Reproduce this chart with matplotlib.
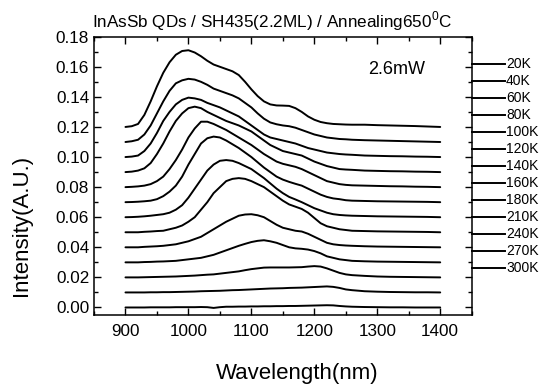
import matplotlib
matplotlib.use("Agg")
import matplotlib.pyplot as plt
from matplotlib.lines import Line2D
from matplotlib.ticker import MultipleLocator

plt.rcParams['font.family'] = ['Liberation Sans', 'DejaVu Sans']
plt.rcParams['mathtext.fontset'] = 'custom'
plt.rcParams['mathtext.rm'] = 'Liberation Sans'

# ---- data ----
wavelength = [900, 910, 920, 930, 940, 950, 960, 970, 980, 990,
              1000, 1010, 1020, 1030, 1040, 1050, 1060, 1070, 1080, 1090,
              1100, 1110, 1120, 1130, 1140, 1150, 1160, 1170, 1180, 1190,
              1200, 1210, 1220, 1230, 1240, 1250, 1260,
              1280, 1300, 1320, 1340, 1360, 1380, 1400]

temps = ['20K', '40K', '60K', '80K', '100K', '120K', '140K', '160K',
         '180K', '210K', '240K', '270K', '300K']

offsets = [0.12, 0.11, 0.10, 0.09, 0.08, 0.07, 0.06, 0.05, 0.04, 0.03, 0.02, 0.01, 0.00]

pl_20K = [0.000, 0.0005, 0.002, 0.008, 0.017, 0.027, 0.036, 0.043, 0.048, 0.0505,
          0.051, 0.0495, 0.047, 0.044, 0.0415, 0.040, 0.0385, 0.037, 0.0345, 0.030,
          0.025, 0.0205, 0.017, 0.015, 0.0143, 0.0142, 0.014, 0.0125, 0.010, 0.007,
          0.0048, 0.0033, 0.0025, 0.002, 0.0018, 0.0016, 0.0015,
          0.0015, 0.0012, 0.001, 0.0008, 0.0006, 0.0003, 0.000]
pl_40K = [0.000, 0.0005, 0.0015, 0.005, 0.011, 0.019, 0.027, 0.034, 0.039, 0.041,
          0.042, 0.0415, 0.040, 0.038, 0.0355, 0.034, 0.0325, 0.031, 0.029, 0.026,
          0.023, 0.019, 0.0155, 0.013, 0.0118, 0.011, 0.0105, 0.0095, 0.008, 0.0065,
          0.005, 0.004, 0.003, 0.0025, 0.002, 0.0018, 0.0015,
          0.0012, 0.001, 0.0008, 0.0006, 0.0004, 0.0002, 0.000]
pl_60K = [0.000, 0.0003, 0.001, 0.004, 0.009, 0.016, 0.024, 0.030, 0.035, 0.038,
          0.0395, 0.039, 0.038, 0.036, 0.0345, 0.033, 0.031, 0.029, 0.027, 0.024,
          0.021, 0.018, 0.015, 0.013, 0.012, 0.011, 0.010, 0.009, 0.0075, 0.006,
          0.005, 0.004, 0.003, 0.0025, 0.002, 0.0017, 0.0015,
          0.001, 0.0008, 0.0006, 0.0005, 0.0003, 0.0002, 0.000]
pl_80K = [0.000, 0.0003, 0.001, 0.0025, 0.006, 0.012, 0.019, 0.027, 0.034, 0.039,
          0.0425, 0.0435, 0.0425, 0.040, 0.038, 0.036, 0.034, 0.0325, 0.031, 0.029,
          0.027, 0.024, 0.021, 0.018, 0.016, 0.014, 0.013, 0.012, 0.011, 0.009,
          0.007, 0.0055, 0.004, 0.003, 0.002, 0.0017, 0.0015,
          0.001, 0.0008, 0.0006, 0.0005, 0.0003, 0.0002, 0.000]
pl_100K = [0.000, 0.0002, 0.0005, 0.001, 0.002, 0.004, 0.007, 0.012, 0.018, 0.025,
           0.033, 0.039, 0.0435, 0.0435, 0.042, 0.040, 0.038, 0.0355, 0.033, 0.0305,
           0.028, 0.025, 0.022, 0.0195, 0.017, 0.0155, 0.0145, 0.0135, 0.012, 0.010,
           0.008, 0.006, 0.004, 0.003, 0.002, 0.0015, 0.0012,
           0.001, 0.0008, 0.0006, 0.0005, 0.0003, 0.0002, 0.000]
pl_120K = [0.000, 0.0001, 0.0003, 0.0006, 0.001, 0.002, 0.004, 0.007, 0.011, 0.017,
           0.025, 0.032, 0.039, 0.0425, 0.0436, 0.043, 0.041, 0.0385, 0.036, 0.033,
           0.030, 0.0265, 0.023, 0.020, 0.017, 0.015, 0.0135, 0.0122, 0.011, 0.009,
           0.007, 0.005, 0.0035, 0.0025, 0.002, 0.0013, 0.001,
           0.0008, 0.0006, 0.0005, 0.0004, 0.0003, 0.0002, 0.000]
pl_140K = [0.000, 0.0001, 0.0003, 0.0006, 0.001, 0.0015, 0.002, 0.003, 0.005, 0.008,
           0.013, 0.019, 0.025, 0.031, 0.035, 0.0375, 0.038, 0.0375, 0.036, 0.034,
           0.032, 0.029, 0.026, 0.0225, 0.019, 0.016, 0.0135, 0.0118, 0.010, 0.008,
           0.006, 0.0045, 0.003, 0.002, 0.0015, 0.0012, 0.001,
           0.0008, 0.0006, 0.0005, 0.0004, 0.0003, 0.0002, 0.000]
pl_160K = [0.000, 0.000, 0.000, 0.0003, 0.0005, 0.0008, 0.001, 0.002, 0.003, 0.0045,
           0.007, 0.010, 0.015, 0.020, 0.026, 0.030, 0.034, 0.0355, 0.036, 0.0355,
           0.034, 0.032, 0.030, 0.027, 0.024, 0.021, 0.0185, 0.017, 0.0155, 0.013,
           0.0095, 0.006, 0.004, 0.003, 0.002, 0.0015, 0.001,
           0.0008, 0.0006, 0.0005, 0.0004, 0.0003, 0.0002, 0.000]
pl_180K = [0.000, 0.000, 0.000, 0.0003, 0.0005, 0.0007, 0.001, 0.0015, 0.002, 0.003,
           0.004, 0.0055, 0.007, 0.0095, 0.012, 0.0145, 0.017, 0.019, 0.021, 0.0218,
           0.022, 0.0213, 0.020, 0.0175, 0.015, 0.013, 0.012, 0.011, 0.0105, 0.009,
           0.007, 0.005, 0.003, 0.002, 0.0015, 0.0012, 0.001,
           0.0007, 0.0005, 0.0004, 0.0003, 0.0002, 0.0001, 0.000]
pl_210K = [0.000, 0.000, 0.000, 0.0002, 0.0003, 0.0005, 0.0006, 0.0008, 0.001, 0.0015,
           0.002, 0.0025, 0.003, 0.004, 0.005, 0.0065, 0.008, 0.0095, 0.011, 0.0123,
           0.0135, 0.0143, 0.0147, 0.014, 0.013, 0.0115, 0.010, 0.0093, 0.009, 0.0085,
           0.0075, 0.006, 0.004, 0.003, 0.002, 0.0015, 0.001,
           0.0007, 0.0005, 0.0004, 0.0003, 0.0002, 0.0001, 0.000]
pl_240K = [0.000, 0.000, 0.000, 0.0001, 0.0002, 0.0003, 0.0004, 0.0005, 0.0006, 0.0008,
           0.001, 0.0012, 0.0015, 0.0018, 0.002, 0.0025, 0.003, 0.0035, 0.004, 0.0048,
           0.0055, 0.006, 0.0065, 0.0066, 0.0066, 0.0066, 0.0066, 0.0067, 0.0068, 0.0072,
           0.0075, 0.0072, 0.006, 0.0045, 0.003, 0.002, 0.0015,
           0.001, 0.0006, 0.0004, 0.0003, 0.0002, 0.0001, 0.000]
pl_270K = [0.000, 0.000, 0.000, 0.000, 0.0001, 0.0001, 0.0002, 0.0002, 0.0003, 0.0004,
           0.0005, 0.0006, 0.0008, 0.0009, 0.001, 0.0011, 0.0013, 0.0015, 0.0016, 0.0018,
           0.002, 0.0022, 0.0024, 0.0026, 0.0027, 0.0028, 0.003, 0.0031, 0.0032, 0.0034,
           0.0036, 0.0038, 0.004, 0.0037, 0.003, 0.002, 0.0015,
           0.0008, 0.0005, 0.0003, 0.0002, 0.0001, 0.0001, 0.000]
pl_300K = [0.000, 0.000, 0.000, 0.000, 0.0001, 0.0001, 0.0001, 0.0001, 0.0002, 0.0002,
           0.0002, 0.0002, 0.0003, 0.0002, -0.0003, 0.0002, 0.0005, 0.0005, 0.0006, 0.0006,
           0.0007, 0.0007, 0.0008, 0.0008, 0.0009, 0.0009, 0.001, 0.001, 0.0011, 0.0012,
           0.0013, 0.0014, 0.0015, 0.0014, 0.001, 0.0007, 0.0005,
           0.0003, 0.0002, 0.0001, 0.0001, 0.000, 0.000, 0.000]

spectra = [pl_20K, pl_40K, pl_60K, pl_80K, pl_100K, pl_120K, pl_140K,
           pl_160K, pl_180K, pl_210K, pl_240K, pl_270K, pl_300K]

title = 'InAsSb QDs / SH435(2.2ML) / Annealing650$^{0}$C'
power_label = '2.6mW'

# ---- figure ----
W, H = 542, 390
fig = plt.figure(figsize=(W / 100, H / 100), dpi=100)
ax = fig.add_axes([94 / W, 1 - 315 / H, (471.7 - 94) / W, (315 - 36.7) / H])

for spec, off in zip(spectra, offsets):
    ax.plot(wavelength, [v + off for v in spec], color='black', lw=1.4,
            solid_joinstyle='round', solid_capstyle='round')

ax.set_xlim(850, 1450)
ax.set_ylim(-0.005, 0.18)
ax.xaxis.set_major_locator(MultipleLocator(100))
ax.xaxis.set_minor_locator(MultipleLocator(50))
ax.yaxis.set_major_locator(MultipleLocator(0.02))
ax.yaxis.set_minor_locator(MultipleLocator(0.01))
ax.yaxis.set_major_formatter(plt.FuncFormatter(lambda v, p: f'{v:.2f}'))
ax.tick_params(which='both', direction='in', top=True, right=True, width=1.0, labelsize=12.3)
ax.tick_params(which='major', length=5)
ax.tick_params(which='minor', length=3)
ax.tick_params(axis='x', which='major', pad=6.5)
for s in ax.spines.values():
    s.set_linewidth(1.1)

fig.text(297 / W, 1 - 373 / H, 'Wavelength(nm)', ha='center', va='center', fontsize=16)
fig.text(22 / W, 1 - 225 / H, 'Intensity(A.U.)', ha='center', va='center', rotation=90, fontsize=16)
fig.text(272 / W, 1 - 21 / H, title, ha='center', va='center', fontsize=12.3)
fig.text(368 / W, 1 - 70 / H, power_label, ha='left', va='center', fontsize=13)

# temperature key on the right of the frame
for i, t in enumerate(temps):
    yp = 1 - (64 + i * 16.97) / H
    fig.add_artist(Line2D([471.7 / W, 505 / W], [yp, yp], color='black', lw=1.4,
                          transform=fig.transFigure))
    fig.text(506 / W, yp, t, ha='left', va='center', fontsize=10)

fig.savefig('out.png', dpi=100)
